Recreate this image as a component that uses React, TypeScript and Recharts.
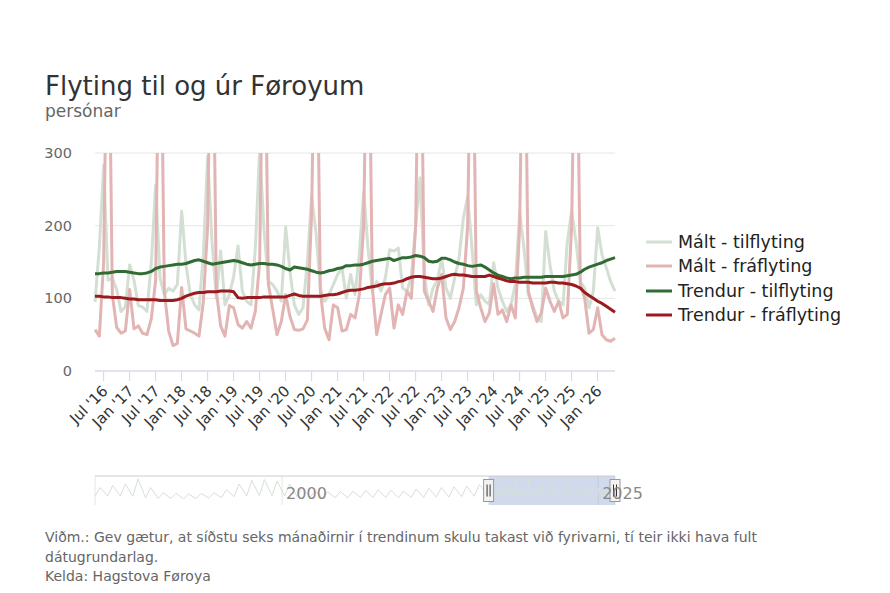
import {
  LineChart,
  Line,
  XAxis,
  YAxis,
  CartesianGrid,
  ReferenceArea,
  ReferenceDot,
  ReferenceLine,
} from "recharts";

const FONT = "'DejaVu Sans', Verdana, sans-serif";

const MONTH_NAMES = ["Jan", "Feb", "Mar", "Apr", "May", "Jun", "Jul", "Aug", "Sep", "Oct", "Nov", "Dec"];
// May 2016 .. May 2026
const MONTHS: string[] = Array.from({ length: 121 }, (_, i) => {
  const k = i + 4;
  return `${MONTH_NAMES[k % 12]} '${16 + Math.floor(k / 12)}`;
});

const TICKS = [
  "Jul '16", "Jan '17", "Jul '17", "Jan '18", "Jul '18", "Jan '19", "Jul '19",
  "Jan '20", "Jul '20", "Jan '21", "Jul '21", "Jan '22", "Jul '22", "Jan '23",
  "Jul '23", "Jan '24", "Jul '24", "Jan '25", "Jul '25", "Jan '26",
];
const Y_TICKS = [0, 100, 200, 300];

// Mált - tilflyting
const MALT_TIL = [
  95, 170, 283, 125, 128, 112, 82, 88,
  146, 125, 90, 88, 82, 150, 256, 128, 105, 114, 110, 119,
  220, 146, 105, 91, 84, 160, 295, 178, 100, 165, 91, 105,
  130, 172, 110, 96, 91, 169, 305, 195, 123, 119, 110, 96,
  198, 137, 91, 78, 87, 150, 240, 190, 114, 96, 105, 119,
  133, 142, 100, 133, 105, 160, 247, 169, 110, 123, 110, 128,
  167, 165, 169, 114, 110, 130, 200, 266, 133, 91, 114, 125,
  155, 114, 100, 128, 155, 210, 240, 169, 91, 105, 96, 92,
  149, 114, 96, 82, 91, 120, 218, 169, 105, 91, 73, 68,
  192, 146, 110, 96, 91, 178, 220, 178, 123, 114, 87, 110,
  197, 160, 142, 123, 110,
];

// Mált - fráflyting
const MALT_FRA = [
  57, 48, 150, 600, 105, 60, 52, 55,
  112, 58, 62, 52, 50, 72, 125, 610, 110, 55, 35, 38,
  115, 58, 55, 52, 48, 95, 200, 610, 110, 62, 48, 90,
  87, 64, 59, 68, 59, 82, 150, 600, 120, 85, 50, 68,
  105, 75, 57, 56, 58, 70, 220, 600, 110, 59, 43, 91,
  87, 55, 57, 78, 73, 105, 200, 600, 115, 50, 78, 105,
  114, 59, 91, 78, 110, 100, 200, 610, 110, 96, 82, 114,
  133, 73, 57, 68, 87, 114, 200, 600, 110, 87, 68, 80,
  120, 78, 84, 68, 91, 73, 200, 610, 110, 87, 68, 80,
  114, 96, 82, 96, 73, 78, 200, 600, 120, 100, 52, 57,
  87, 50, 43, 41, 45,
];

// Trendur - tilflyting
const TREND_TIL = [
  134, 134, 135, 135, 136, 137, 137, 137,
  136, 135, 134, 134, 135, 137, 141, 143, 144, 145, 146, 147,
  147, 148, 150, 152, 153, 151, 149, 147, 148, 149, 150, 151,
  152, 151, 149, 147, 146, 147, 148, 148, 147, 147, 146, 144,
  141, 139, 143, 142, 141, 140, 138, 136, 135, 136, 138, 139,
  141, 142, 145, 145, 146, 146, 147, 149, 151, 152, 153, 154,
  155, 152, 154, 156, 156, 157, 159, 158, 156, 151, 150, 151,
  155, 155, 153, 150, 148, 147, 145, 144, 145, 146, 143, 139,
  135, 132, 130, 128, 127, 128, 128, 129, 129, 129, 129, 129,
  130, 130, 130, 130, 130, 131, 132, 133, 136, 140, 143, 145,
  147, 149, 152, 154, 156,
];

// Trendur - fráflyting
const TREND_FRA = [
  103, 103, 102, 102, 101, 101, 101, 100,
  99, 99, 98, 98, 98, 98, 98, 97, 97, 97, 97, 98,
  100, 103, 105, 107, 108, 108, 109, 109, 109, 110, 110, 110,
  109, 101, 100, 101, 101, 101, 101, 102, 102, 102, 102, 102,
  102, 104, 106, 104, 103, 103, 103, 103, 103, 104, 105, 105,
  106, 108, 110, 111, 111, 112, 113, 115, 116, 117, 119, 120,
  120, 121, 123, 124, 127, 129, 130, 130, 129, 128, 127, 127,
  128, 130, 132, 133, 132, 132, 131, 130, 130, 130, 130, 132,
  130, 128, 126, 124, 123, 123, 122, 122, 122, 121, 121, 121,
  121, 122, 122, 121, 121, 120, 119, 117, 114, 108, 104, 100,
  96, 93, 89, 85, 81,
];

// navigator history (tilflyting, yearly low / high)
const NAV_YEARS = [
  1985, 1986, 1987, 1988, 1989, 1990, 1991, 1992, 1993, 1994, 1995,
  1996, 1997, 1998, 1999, 2000, 2001, 2002, 2003, 2004, 2005,
  2006, 2007, 2008, 2009, 2010, 2011, 2012, 2013, 2014, 2015,
];
const NAV_LOW = [
  80, 85, 85, 80, 60, 50, 50, 45, 50, 55, 60,
  75, 85, 90, 90, 85, 75, 65, 60, 60, 60,
  65, 65, 65, 60, 65, 65, 70, 70, 75, 80,
];
const NAV_PEAK = [
  200, 230, 250, 320, 200, 130, 120, 110, 120, 130, 170,
  250, 300, 310, 290, 250, 200, 150, 140, 145, 150,
  160, 170, 165, 150, 180, 190, 200, 210, 220, 240,
];

const SERIES = [
  { key: "maltTil", name: "Mált - tilflyting", color: "#d3dfd3" },
  { key: "maltFra", name: "Mált - fráflyting", color: "#e2b4b4" },
  { key: "trendTil", name: "Trendur - tilflyting", color: "#2f6b32" },
  { key: "trendFra", name: "Trendur - fráflyting", color: "#9a1b1e" },
];

const data = MONTHS.map((month, i) => ({
  month,
  maltTil: MALT_TIL[i],
  maltFra: MALT_FRA[i],
  trendTil: TREND_TIL[i],
  trendFra: TREND_FRA[i],
}));

const navMain = MALT_TIL.map((v, i) => ({ t: 2016 + (4 + i) / 12, v }));
const navData = [
  ...NAV_YEARS.flatMap((y, i) => [
    { t: y + 0.2, v: NAV_LOW[i] },
    { t: y + 0.6, v: NAV_PEAK[i] },
  ]),
  ...navMain,
];
const SEL_START = navMain[0].t;
const SEL_END = navMain[navMain.length - 1].t;

const XTick = ({ x, y, payload }: any) => (
  <g transform={`translate(${x + 5},${y + 9}) rotate(-45)`}>
    <text textAnchor="end" fontSize={15} fill="#333" fontFamily={FONT}>
      {payload.value}
    </text>
  </g>
);

const NavTick = ({ x, payload }: any) => (
  <text x={x + 4} y={39} fontSize={16} fill="#888" fontFamily={FONT}>
    {payload.value}
  </text>
);

const Handle = ({ cx, cy }: any) => (
  <g>
    <rect x={cx - 5} y={cy - 11} width={10} height={22} fill="#f2f2f2" stroke="#999" strokeWidth={1} />
    <line x1={cx - 1.5} x2={cx - 1.5} y1={cy - 6} y2={cy + 6} stroke="#333" strokeWidth={1} />
    <line x1={cx + 1.5} x2={cx + 1.5} y1={cy - 6} y2={cy + 6} stroke="#333" strokeWidth={1} />
  </g>
);

export default function App() {
  return (
    <div
      style={{
        position: "absolute",
        left: 0,
        top: 0,
        width: 890,
        height: 593,
        background: "#fff",
        fontFamily: FONT,
        overflow: "hidden",
      }}
    >
      <div style={{ position: "absolute", left: 45, top: 73, fontSize: 26, lineHeight: "26px", color: "#333", whiteSpace: "nowrap" }}>
        Flyting til og úr Føroyum
      </div>
      <div style={{ position: "absolute", left: 45, top: 103, fontSize: 17, lineHeight: "17px", color: "#666" }}>
        persónar
      </div>

      <div style={{ position: "absolute", left: 0, top: 0 }}>
        <LineChart width={890} height={460} data={data} margin={{ top: 153, right: 275, bottom: 29, left: 35 }}>
          <CartesianGrid vertical={false} stroke="#e6e6e6" />
          <XAxis
            dataKey="month"
            ticks={TICKS}
            interval={0}
            height={60}
            tickSize={10}
            axisLine={{ stroke: "#ccd6eb" }}
            tickLine={{ stroke: "#ccd6eb" }}
            tick={<XTick />}
          />
          <YAxis
            domain={[0, 300]}
            ticks={Y_TICKS}
            allowDataOverflow
            width={60}
            axisLine={false}
            tickLine={false}
            tickSize={0}
            tickMargin={23}
            tick={{ fill: "#666", fontSize: 14.5, fontFamily: FONT }}
          />
          {SERIES.map((s) => (
            <Line
              key={s.key}
              type="linear"
              dataKey={s.key}
              name={s.name}
              stroke={s.color}
              strokeWidth={3}
              strokeLinejoin="round"
              dot={false}
              activeDot={false}
              isAnimationActive={false}
            />
          ))}
        </LineChart>
      </div>

      <div style={{ position: "absolute", left: 646, top: 230 }}>
        {SERIES.map((s) => (
          <div key={s.key} style={{ display: "flex", alignItems: "center", height: 24.3 }}>
            <svg width={26} height={6} style={{ marginRight: 6 }}>
              <line x1={0} x2={26} y1={3} y2={3} stroke={s.color} strokeWidth={3} />
            </svg>
            <span style={{ fontSize: 17.5, color: "#222", whiteSpace: "nowrap" }}>{s.name}</span>
          </div>
        ))}
      </div>

      <div style={{ position: "absolute", left: 0, top: 460 }}>
        <LineChart width={890} height={60} data={navData} margin={{ top: 16, right: 275, bottom: 14, left: 95 }}>
          <CartesianGrid horizontal={false} stroke="#e6e6e6" />
          <XAxis
            type="number"
            dataKey="t"
            domain={["dataMin", "dataMax"]}
            ticks={[2000, 2025]}
            height={1}
            axisLine={false}
            tickLine={false}
            tick={<NavTick />}
          />
          <YAxis hide domain={[-40, 360]} />
          <Line type="linear" dataKey="v" stroke="#d6e0d6" strokeWidth={1} dot={false} activeDot={false} isAnimationActive={false} />
          <ReferenceLine y={360} stroke="#cccccc" />
          <ReferenceArea x1={SEL_START} x2={SEL_END} fill="#6685c2" fillOpacity={0.3} stroke="none" ifOverflow="visible" />
          <ReferenceDot x={SEL_START} y={160} ifOverflow="visible" shape={<Handle />} />
          <ReferenceDot x={SEL_END} y={160} ifOverflow="visible" shape={<Handle />} />
        </LineChart>
      </div>

      <div style={{ position: "absolute", left: 45, top: 528, fontSize: 14, lineHeight: "19.5px", color: "#666", whiteSpace: "nowrap" }}>
        Viðm.: Gev gætur, at síðstu seks mánaðirnir í trendinum skulu takast við fyrivarni, tí teir ikki hava fult
        <br />
        dátugrundarlag.
        <br />
        Kelda: Hagstova Føroya
      </div>
    </div>
  );
}
